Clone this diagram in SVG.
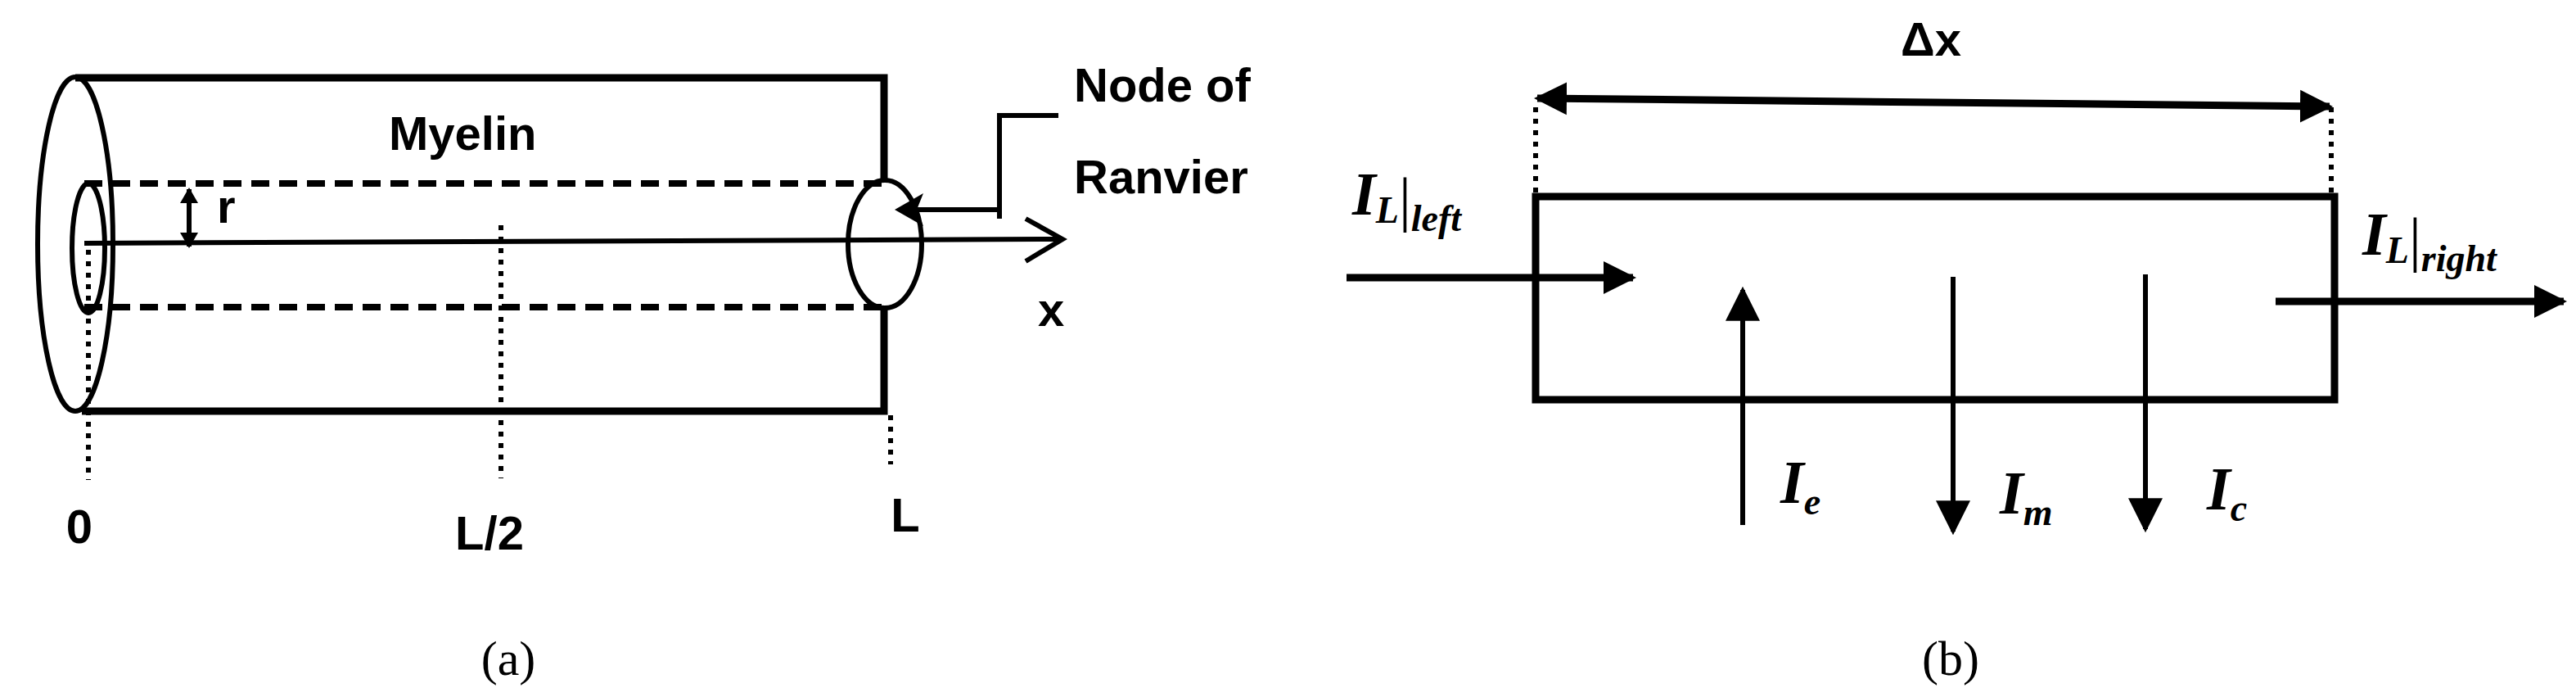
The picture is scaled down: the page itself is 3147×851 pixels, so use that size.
<svg xmlns="http://www.w3.org/2000/svg" width="3147" height="851" viewBox="0 0 3147 851">
<style>
.s{fill:none;stroke:#000;stroke-width:6}
.t{stroke:#000;stroke-width:9;fill:none}
.d{fill:none;stroke:#000;stroke-width:6;stroke-dasharray:6 8}
.dash{fill:none;stroke:#000;stroke-width:8;stroke-dasharray:22 12}
.lab{font-family:"Liberation Sans",Arial,sans-serif;font-weight:bold;font-size:58px;fill:#000}
.cap{font-family:"Liberation Serif","Times New Roman",serif;font-size:60px;fill:#000}
.m{font-family:"Liberation Serif","Times New Roman",serif;font-weight:bold;font-style:italic;font-size:74px;fill:#000}
.sub{font-size:46px}
</style>
<defs>
<marker id="big" viewBox="0 0 10 10" refX="9" refY="5" markerWidth="40" markerHeight="46" orient="auto-start-reverse" markerUnits="userSpaceOnUse"><path d="M0,0 L10,5 L0,10 z" fill="#000"/></marker>
<marker id="med" viewBox="0 0 10 10" refX="9" refY="5" markerWidth="42" markerHeight="42" orient="auto-start-reverse" markerUnits="userSpaceOnUse"><path d="M0,0 L10,5 L0,10 z" fill="#000"/></marker>
</defs>
<g id="axon">
<ellipse cx="92" cy="298" rx="46" ry="204" class="s"/>
<ellipse cx="108" cy="303" rx="20" ry="79" class="s"/>
<path d="M92,95 H1080 V220 M1080,375 V502 H100" class="t"/>
<path d="M103,224 H1077 M103,375 H1077" class="dash"/>
<ellipse cx="1081" cy="298" rx="45" ry="78" class="s"/>
<text x="475" y="183" class="lab" font-size="62">Myelin</text>
</g>
<g id="connectors">
<path d="M103,297 L1296,292" class="s" stroke-width="4"/>
<path d="M1253,267 L1298,292 L1253,319" class="s" stroke-width="4"/>
<path d="M231,231 V301" class="s" stroke-width="4"/>
<path d="M220,248 L231,229 L242,248 Z M220,284 L231,303 L242,284 Z" fill="#000"/>
<path d="M1293,141 H1221 V267 M1221,256 H1110" class="s"/>
<path d="M1093,256 L1128,236 L1120,256 L1128,276 Z" fill="#000"/>
<path d="M108,305 V586 M612,275 V584 M1088,507 V567" class="d"/>
<path d="M1876,131 V240 M2848,131 V240" class="d"/>
<path d="M1878,120 L2846,130" class="t" stroke-width="7" marker-start="url(#big)" marker-end="url(#big)"/>
<path d="M1645,339 H1995" class="t" marker-end="url(#big)"/>
<path d="M2780,368 H3132" class="t" marker-end="url(#big)"/>
<path d="M2129,641 V354" class="s" marker-end="url(#med)"/>
<path d="M2386,338 V649" class="s" marker-end="url(#med)"/>
<path d="M2621,335 V646" class="s" marker-end="url(#med)"/>
</g>
<g id="ranvier"><text x="1312" y="124" class="lab">Node of</text><text x="1312" y="236" class="lab">Ranvier</text></g>
<g id="labels-a">
<text x="265" y="272" class="lab" font-size="48">r</text>
<text x="1268" y="398" class="lab" font-weight="normal" font-size="52">x</text>
<text x="97" y="663" class="lab" text-anchor="middle">0</text>
<text x="598" y="671" class="lab" text-anchor="middle">L/2</text>
<text x="1106" y="649" class="lab" text-anchor="middle">L</text>
<text x="621" y="824" class="cap" text-anchor="middle">(a)</text>
</g>
<g id="box"><rect x="1876" y="240" width="976" height="248" class="t"/></g>
<g id="labels-b">
<text x="2359" y="68" class="lab" text-anchor="middle">Δx</text>
<text x="1652" y="262" class="m">I<tspan class="sub" dy="10">L</tspan><tspan font-style="normal" font-weight="normal" dy="-4">|</tspan><tspan class="sub" dy="14">left</tspan></text>
<text x="2886" y="311" class="m">I<tspan class="sub" dy="10">L</tspan><tspan font-style="normal" font-weight="normal" dy="-4">|</tspan><tspan class="sub" dy="14">right</tspan></text>
<text x="2175" y="614" class="m">I<tspan class="sub" dy="14">e</tspan></text>
<text x="2443" y="627" class="m">I<tspan class="sub" dy="14">m</tspan></text>
<text x="2696" y="622" class="m">I<tspan class="sub" dy="14">c</tspan></text>
<text x="2383" y="824" class="cap" text-anchor="middle">(b)</text>
</g>
</svg>
